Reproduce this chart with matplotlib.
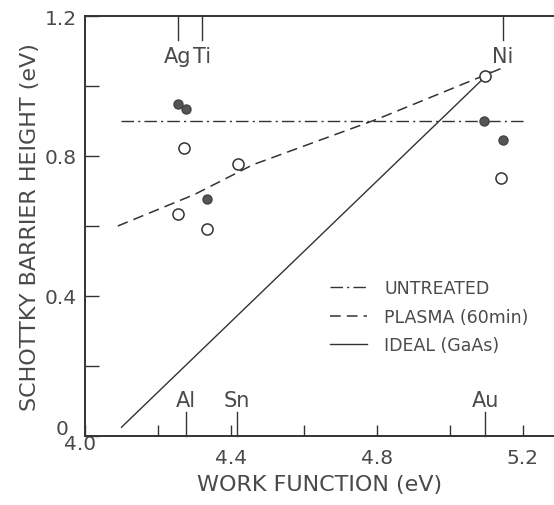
import matplotlib
matplotlib.use("Agg")
import matplotlib.pyplot as plt
import matplotlib.transforms as mtransforms

# data
filled_x = [4.254, 4.277, 4.333, 5.093, 5.144]
filled_y = [0.949, 0.934, 0.677, 0.901, 0.846]
open_x = [4.271, 4.418, 4.254, 4.333, 5.096, 5.141]
open_y = [0.823, 0.777, 0.634, 0.591, 1.028, 0.736]

untreated_x = [4.10, 5.21]
untreated_y = [0.901, 0.901]
plasma_x = [4.09, 4.30, 4.46, 4.80, 5.14]
plasma_y = [0.60, 0.69, 0.775, 0.905, 1.05]
ideal_x = [4.10, 5.11]
ideal_y = [0.025, 1.04]

top_metals = ["Ag", "Ti", "Ni"]
top_wf = [4.255, 4.32, 5.145]
bottom_metals = ["Al", "Sn", "Au"]
bottom_wf = [4.277, 4.416, 5.096]

xticks = [4.0, 4.2, 4.4, 4.6, 4.8, 5.0, 5.2]
xticklabels = ["4.0", "", "4.4", "", "4.8", "", "5.2"]
yticks = [0, 0.2, 0.4, 0.6, 0.8, 1.0, 1.2]
yticklabels = ["0", "", "0.4", "", "0.8", "", "1.2"]

ink = "#333333"
txt = "#4a4a4a"
plt.rcParams['font.family'] = ['DejaVu Sans']

fig = plt.figure(figsize=(5.54, 5.06), dpi=100)
ax = fig.add_axes([0.1534, 0.1364, 0.8466, 0.83])
ax.set_xlim(4.0, 5.285)
ax.set_ylim(0, 1.2)

ax.plot(untreated_x, untreated_y, color=ink, lw=1.0, dashes=[9, 3, 1.5, 3], label="UNTREATED")
ax.plot(plasma_x, plasma_y, color=ink, lw=1.1, dashes=[7, 4], label="PLASMA (60min)")
ax.plot(ideal_x, ideal_y, color=ink, lw=1.0, label="IDEAL (GaAs)")

ax.plot(filled_x, filled_y, 'o', ms=6.5, color="#555555", mec="#444444", ls='none')
ax.plot(open_x, open_y, 'o', ms=8, mfc='white', mec=ink, mew=1.1, ls='none')

# metal work-function markers on top and bottom axes
trans = mtransforms.blended_transform_factory(ax.transData, ax.transAxes)
for m, w in zip(top_metals, top_wf):
    ax.plot([w, w], [1.0, 0.943], color=ink, lw=1.0, transform=trans, clip_on=False)
    ax.text(w, 0.905, m, transform=trans, ha='center', va='center', fontsize=15, color=txt)
for m, w in zip(bottom_metals, bottom_wf):
    ax.plot([w, w], [0.0, 0.057], color=ink, lw=1.0, transform=trans, clip_on=False)
    ax.text(w, 0.085, m, transform=trans, ha='center', va='center', fontsize=15, color=txt)

ax.set_xticks(xticks)
ax.set_xticklabels(xticklabels)
ax.set_yticks(yticks)
ax.set_yticklabels(yticklabels)
ax.tick_params(axis='both', direction='in', colors=ink, labelcolor=txt, labelsize=14.5, width=1.0)
ax.tick_params(axis='y', length=10, pad=6)
ax.tick_params(axis='x', length=8, pad=9)

# the "0" and "4.0" sit tucked into the corner in the original
ylab0 = ax.get_yticklabels()[0]
ylab0.set_transform(ylab0.get_transform() +
                    mtransforms.ScaledTranslation(-8 / 100, 9 / 100, fig.dpi_scale_trans))
xlab0 = ax.get_xticklabels()[0]
xlab0.set_transform(xlab0.get_transform() +
                    mtransforms.ScaledTranslation(-5 / 100, 14 / 100, fig.dpi_scale_trans))

for s in ["left", "top", "bottom"]:
    ax.spines[s].set_color(ink)
    ax.spines[s].set_linewidth(1.4)
ax.spines["right"].set_visible(False)

ax.set_xlabel("WORK FUNCTION (eV)", fontsize=16, color=txt, labelpad=5)
ax.set_ylabel("SCHOTTKY BARRIER HEIGHT (eV)", fontsize=16, color=txt, labelpad=3)

leg = ax.legend(loc='upper left', bbox_to_anchor=(0.49, 0.41), frameon=False,
                fontsize=12.5, handlelength=2.1, labelspacing=0.6, handletextpad=1.0)
for t in leg.get_texts():
    t.set_color(txt)

fig.savefig("out.png", dpi=100)
